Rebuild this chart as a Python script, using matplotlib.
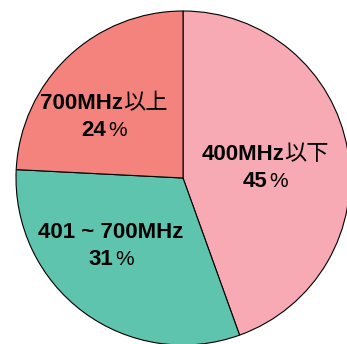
import matplotlib
matplotlib.use("Agg")
import matplotlib.pyplot as plt
from matplotlib.offsetbox import TextArea, HPacker, VPacker, AnnotationBbox

labels = ["400MHz以下", "401 ~ 700MHz", "700MHz以上"]
shares = [44.5, 31.3, 24.2]      # wedge sizes
pct_text = ["45", "31", "24"]    # percentages as printed
colors = ["#F7AAB4", "#5EC4AE", "#F4837D"]

# label text split into (bold latin part, regular CJK part)
label_parts = [("400MHz", "以下"), ("401 ~ 700MHz", ""), ("700MHz", "以上")]
label_pos = [(265, 167), (111, 246), (104, 116)]  # pixel centres

W, H = 347, 344
cx, cy, R = 183, 178, 167

fig = plt.figure(figsize=(W / 100, H / 100), dpi=100)
ax = fig.add_axes([0, 0, 1, 1])
ax.pie(shares, colors=colors, startangle=90, counterclock=False, radius=1,
       wedgeprops=dict(edgecolor="black", linewidth=0.8))
ax.set_xlim(-cx / R, (W - cx) / R)
ax.set_ylim(-(H - cy) / R, cy / R)
ax.set_aspect("auto")
ax.axis("off")

fam = ["Liberation Sans", "Noto Sans CJK JP"]
fs = 16

for (lat, cjk), v, (px, py) in zip(label_parts, pct_text, label_pos):
    row1 = [TextArea(lat, textprops=dict(family=fam, fontsize=fs, weight="bold"))]
    if cjk:
        row1.append(TextArea(cjk, textprops=dict(family=["Noto Sans CJK JP"], fontsize=fs)))
    row2 = [TextArea(v, textprops=dict(family=fam, fontsize=fs, weight="bold")),
            TextArea("%", textprops=dict(family=fam, fontsize=fs - 1))]
    box = VPacker(children=[HPacker(children=row1, align="baseline", pad=0, sep=0),
                            HPacker(children=row2, align="baseline", pad=0, sep=1)],
                  align="center", pad=0, sep=4)
    x = (px - cx) / R
    y = (cy - py) / R
    ab = AnnotationBbox(box, (x, y), frameon=False, box_alignment=(0.5, 0.5))
    ax.add_artist(ab)

fig.savefig("out.png", dpi=100)
